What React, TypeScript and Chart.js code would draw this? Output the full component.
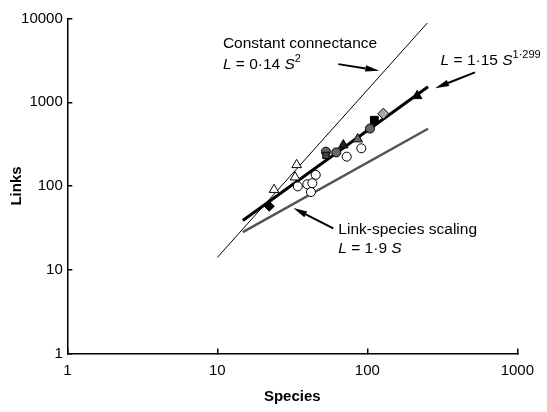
import React, { useEffect, useRef } from 'react';
import { Chart, registerables } from 'chart.js';

Chart.register(...registerables);

// ---- axes ----
const xTickValues = [1, 10, 100, 1000];
const xTickLabels = ['1', '10', '100', '1000'];
const yTickValues = [1, 10, 100, 1000, 10000];
const yTickLabels = ['1', '10', '100', '1000', '10000'];
const xTitle = 'Species';
const yTitle = 'Links';

// ---- model lines (species, links) at their ends ----
const connectanceS = [10, 251];
const connectanceL = [14, 8820];
const powerLawS = [14.8, 254];
const powerLawL = [38.8, 1530];
const linkSpeciesS = [14.8, 254];
const linkSpeciesL = [28.1, 483];

// ---- food webs ----
const openTriS = [23.9, 33.8, 33.0];
const openTriL = [90.4, 178.7, 127.4];
const openCircS = [34.4, 45.3, 39.8, 43.0, 42.1, 72.9, 91.2];
const openCircL = [98.9, 136, 105, 108, 84.7, 224, 282];
const grayCircS = [53.0, 62.1, 104.2];
const grayCircL = [257, 252, 485];
const darkSquareS = [53.0];
const darkSquareL = [232];
const filledTriS = [69.2, 86.3, 215];
const filledTriL = [308, 363, 1192];
const filledTriFill = ['#222', '#666', '#000'];
const blackDiamondS = [22.2];
const blackDiamondL = [57.3];
const blackSquareS = [111.4];
const blackSquareL = [610];
const grayDiamondS = [127.9];
const grayDiamondL = [730];

// ---- annotations (anchored in data coordinates) ----
type Run = { t: string; i?: boolean; sup?: boolean };
const annotationTexts: { s: number; l: number; runs: Run[] }[] = [
  { s: 10.9, l: 4414, runs: [{ t: 'Constant connectance' }] },
  { s: 10.9, l: 2489, runs: [{ t: 'L', i: true }, { t: ' = 0·14 ' }, { t: 'S', i: true }, { t: '2', sup: true }] },
  { s: 308, l: 2807, runs: [{ t: 'L', i: true }, { t: ' = 1·15 ' }, { t: 'S', i: true }, { t: '1·299', sup: true }] },
  { s: 64.1, l: 26.5, runs: [{ t: 'Link-species scaling' }] },
  { s: 64.1, l: 16.0, runs: [{ t: 'L', i: true }, { t: ' = 1·9 ' }, { t: 'S', i: true }] },
];
const arrowFromS = [64.1, 522, 59.3];
const arrowFromL = [2853, 2277, 31.2];
const arrowToS = [120.2, 283, 32.1];
const arrowToL = [2384, 1471, 54.7];

const FONT = "'Liberation Sans', Arial, Helvetica, sans-serif";

const pts = (S: number[], L: number[]) => S.map((s, i) => ({ x: s, y: L[i] }));

const annotationPlugin = {
  id: 'annotationsPlugin',
  afterDatasetsDraw(chart: any) {
    const { ctx } = chart;
    const xs = chart.scales.x;
    const ys = chart.scales.y;
    ctx.save();
    // arrows
    ctx.strokeStyle = '#000';
    ctx.fillStyle = '#000';
    ctx.lineWidth = 2;
    for (let k = 0; k < arrowFromS.length; k++) {
      const x1 = xs.getPixelForValue(arrowFromS[k]);
      const y1 = ys.getPixelForValue(arrowFromL[k]);
      const x2 = xs.getPixelForValue(arrowToS[k]);
      const y2 = ys.getPixelForValue(arrowToL[k]);
      const ang = Math.atan2(y2 - y1, x2 - x1);
      const headLen = 14;
      const headW = 3.2;
      const bx = x2 - headLen * Math.cos(ang);
      const by = y2 - headLen * Math.sin(ang);
      ctx.beginPath();
      ctx.moveTo(x1, y1);
      ctx.lineTo(bx, by);
      ctx.stroke();
      ctx.beginPath();
      ctx.moveTo(x2, y2);
      ctx.lineTo(bx + headW * Math.sin(ang), by - headW * Math.cos(ang));
      ctx.lineTo(bx - headW * Math.sin(ang), by + headW * Math.cos(ang));
      ctx.closePath();
      ctx.fill();
    }
    // texts
    ctx.textAlign = 'left';
    ctx.textBaseline = 'alphabetic';
    for (const a of annotationTexts) {
      let px = xs.getPixelForValue(a.s);
      const py = ys.getPixelForValue(a.l);
      for (const r of a.runs) {
        const size = r.sup ? 11 : 15.5;
        ctx.font = `${r.i ? 'italic ' : ''}${size}px ${FONT}`;
        ctx.fillText(r.t, px, py - (r.sup ? 7 : 0));
        px += ctx.measureText(r.t).width;
      }
    }
    ctx.restore();
  },
};

export default function App() {
  const ref = useRef<HTMLCanvasElement | null>(null);

  useEffect(() => {
    if (!ref.current) return;
    Chart.defaults.font.family = FONT;
    Chart.defaults.color = '#000';

    const lineDs = (label: string, S: number[], L: number[], color: string, width: number, order: number) => ({
      label,
      data: pts(S, L),
      showLine: true,
      borderColor: color,
      borderWidth: width,
      pointRadius: 0,
      fill: false,
      order,
    });
    const pointDs = (label: string, S: number[], L: number[], style: string, radius: number, fill: any, order = 1) => ({
      label,
      data: pts(S, L),
      showLine: false,
      pointStyle: style,
      pointRadius: radius,
      pointBackgroundColor: fill,
      pointBorderColor: '#000',
      pointBorderWidth: 1,
      order,
    });

    const chart = new Chart(ref.current, {
      type: 'scatter',
      data: {
        datasets: [
          lineDs('Constant connectance', connectanceS, connectanceL, '#000', 1, 10),
          lineDs('Link-species scaling', linkSpeciesS, linkSpeciesL, '#555', 2.5, 10),
          pointDs('Open triangles', openTriS, openTriL, 'triangle', 5.5, '#fff'),
          pointDs('Open circles', openCircS, openCircL, 'circle', 4.5, '#fff'),
          pointDs('Dark square', darkSquareS, darkSquareL, 'rect', 4.5, '#444'),
          pointDs('Gray circles', grayCircS, grayCircL, 'circle', 4.5, '#666'),
          pointDs('Filled triangles', filledTriS, filledTriL, 'triangle', 5.5, filledTriFill),
          lineDs('Power law', powerLawS, powerLawL, '#000', 3, 5),
          pointDs('Black diamond', blackDiamondS, blackDiamondL, 'rectRot', 5, '#000'),
          pointDs('Black square', blackSquareS, blackSquareL, 'rect', 5.5, '#000'),
          pointDs('Gray diamond', grayDiamondS, grayDiamondL, 'rectRot', 5.5, '#aaa'),
        ],
      },
      options: {
        responsive: false,
        animation: false,
        events: [],
        devicePixelRatio: 1,
        layout: { padding: { top: 15.7, right: 29.3, bottom: 0, left: 0 } },
        plugins: { legend: { display: false }, tooltip: { enabled: false } },
        scales: {
          x: {
            type: 'logarithmic',
            min: 1,
            max: 1000,
            afterBuildTicks: (s: any) => {
              s.ticks = xTickValues.map((v) => ({ value: v }));
            },
            afterFit: (s: any) => {
              s.height = 58.5;
            },
            ticks: {
              autoSkip: false,
              maxRotation: 0,
              padding: 13,
              font: { size: 15 },
              color: '#000',
              callback: (v: any) => {
                const i = xTickValues.indexOf(Number(v));
                return i >= 0 ? xTickLabels[i] : '';
              },
            },
            grid: { display: true, drawOnChartArea: false, drawTicks: true, tickLength: -5, color: '#000', lineWidth: 1.5 },
            border: { display: true, color: '#000', width: 1.5 },
            title: { display: true, text: xTitle, font: { size: 15, weight: 'bold' }, color: '#000', padding: { top: 0, bottom: 6 } },
          },
          y: {
            type: 'logarithmic',
            min: 1,
            max: 10000,
            afterBuildTicks: (s: any) => {
              s.ticks = yTickValues.map((v) => ({ value: v }));
            },
            afterFit: (s: any) => {
              s.width = 67.3;
            },
            ticks: {
              autoSkip: false,
              padding: 9.5,
              font: { size: 15 },
              color: '#000',
              callback: (v: any) => {
                const i = yTickValues.indexOf(Number(v));
                return i >= 0 ? yTickLabels[i] : '';
              },
            },
            grid: { display: true, drawOnChartArea: false, drawTicks: true, tickLength: -5, color: '#000', lineWidth: 1.5 },
            border: { display: true, color: '#000', width: 1.5 },
            title: { display: true, text: yTitle, font: { size: 15, weight: 'bold' }, color: '#000', padding: { top: 8, bottom: 0 } },
          },
        },
      } as any,
      plugins: [annotationPlugin],
    });
    return () => chart.destroy();
  }, []);

  return (
    <div style={{ position: 'absolute', left: 0, top: 0, width: 547, height: 412, background: '#fff' }}>
      <canvas ref={ref} width={547} height={412} style={{ display: 'block', width: 547, height: 412 }} />
    </div>
  );
}
